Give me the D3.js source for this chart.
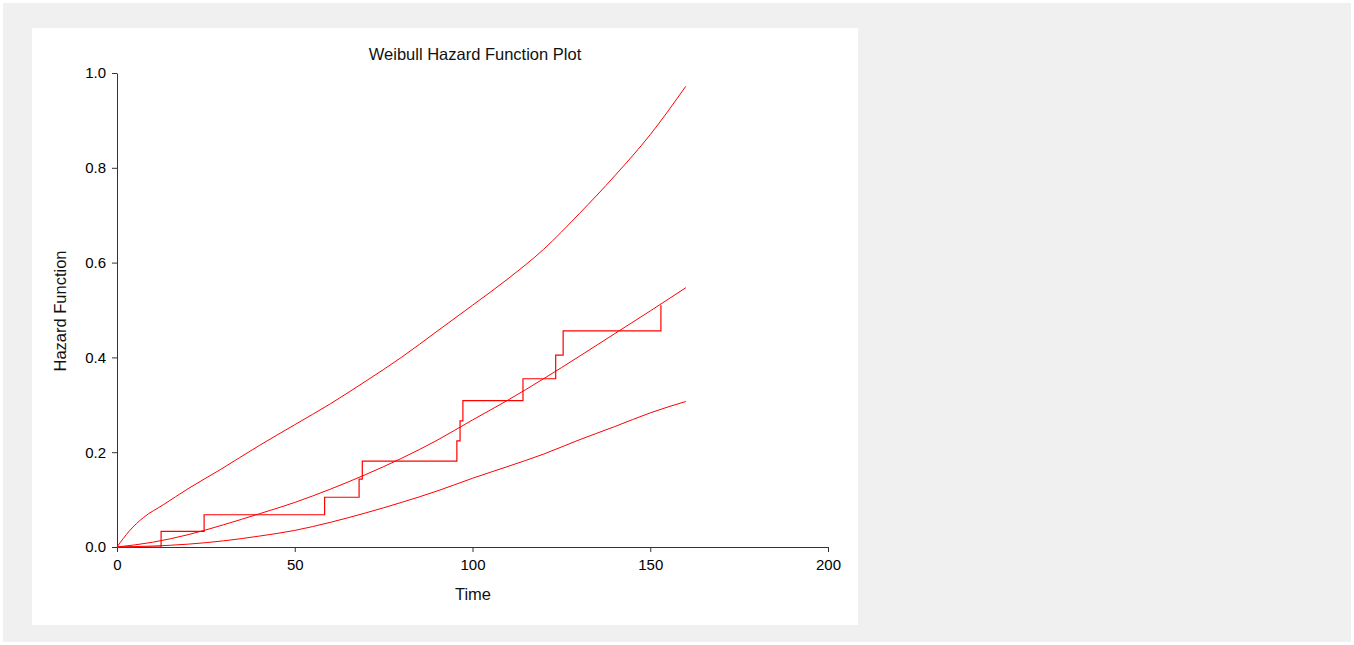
<!DOCTYPE html>
<html><head><meta charset="utf-8">
<script src="https://cdn.jsdelivr.net/npm/d3@7"></script>
<style>body{margin:0;background:#fff;}svg{display:block;font-family:"Liberation Sans",Arial,sans-serif;}</style>
</head><body>
<svg id="c" width="1354" height="645"></svg>
<script>
// Data
const upperTimes = [0, 3.5, 7.4, 13, 20, 29, 40, 50, 60, 70, 80, 90, 100, 110, 120, 130, 140, 150, 160];
const upperHazard = [0, 0.034, 0.062, 0.089, 0.123, 0.163, 0.214, 0.258, 0.302, 0.35, 0.40, 0.455, 0.51, 0.566, 0.628, 0.703, 0.783, 0.87, 0.972];
const curveTimes = [0, 10, 20, 30, 40, 50, 60, 70, 80, 90, 100, 110, 120, 130, 140, 150, 160];
const middleHazard = [0, 0.01, 0.026, 0.047, 0.07, 0.094, 0.122, 0.153, 0.187, 0.225, 0.268, 0.31, 0.355, 0.402, 0.45, 0.498, 0.547];
const lowerHazard = [0, 0.002, 0.006, 0.013, 0.023, 0.035, 0.052, 0.072, 0.094, 0.118, 0.145, 0.17, 0.196, 0.226, 0.254, 0.283, 0.307];
const stepTimes = [0, 12.4, 24.5, 58.4, 68.1, 69.0, 95.6, 96.5, 97.3, 114.2, 123.4, 125.5, 153.0];
const stepHazard = [0, 0.033, 0.068, 0.105, 0.143, 0.181, 0.224, 0.266, 0.309, 0.355, 0.405, 0.456, 0.510];
const xTicks = [0, 50, 100, 150, 200];
const yTicks = [0.0, 0.2, 0.4, 0.6, 0.8, 1.0];

const svg = d3.select("#c");
svg.append("rect").attr("x",3).attr("y",3).attr("width",1348).attr("height",639).attr("fill","#f0f0f0");
svg.append("rect").attr("x",32).attr("y",28).attr("width",826).attr("height",597).attr("fill","#fff");

const x = d3.scaleLinear().domain([0,200]).range([117,828]);
const y = d3.scaleLinear().domain([0,1]).range([547,73]);

const xAxis = svg.append("g").attr("transform","translate(0,547)")
  .call(d3.axisBottom(x).tickValues(xTicks).tickFormat(d3.format("d")).tickSize(5).tickSizeOuter(0));
const yAxis = svg.append("g").attr("transform","translate(117,0)")
  .call(d3.axisLeft(y).tickValues(yTicks).tickFormat(d3.format(".1f")).tickSize(5).tickSizeOuter(0));
[xAxis,yAxis].forEach(g=>{
  g.selectAll("path,line").attr("stroke","#333").attr("stroke-width",1);
  g.selectAll("text").attr("font-size","15px").attr("fill","#000").attr("font-family","Liberation Sans, Arial, sans-serif");
});
xAxis.selectAll("text").attr("dy","0.98em");
yAxis.selectAll("text").attr("x",-11);

const line = d3.line().x(d=>x(d[0])).y(d=>y(d[1])).curve(d3.curveMonotoneX);
svg.append("path").datum(upperTimes.map((t,i)=>[t,upperHazard[i]]))
  .attr("d", line).attr("fill","none").attr("stroke","#ff0000").attr("stroke-width",1);
[middleHazard, lowerHazard].forEach(arr=>{
  svg.append("path").datum(curveTimes.map((t,i)=>[t,arr[i]]))
    .attr("d", line).attr("fill","none").attr("stroke","#ff0000").attr("stroke-width",1);
});
const stepLine = d3.line().x(d=>x(d[0])).y(d=>y(d[1])).curve(d3.curveStepAfter);
svg.append("path").datum(stepTimes.map((t,i)=>[t,stepHazard[i]]))
  .attr("d", stepLine).attr("fill","none").attr("stroke","#ff0000").attr("stroke-width",1.2);

svg.append("text").attr("x",475).attr("y",60).attr("text-anchor","middle").attr("font-size","16.5px").attr("fill","#111").text("Weibull Hazard Function Plot");
svg.append("text").attr("x",473).attr("y",600).attr("text-anchor","middle").attr("font-size","16.5px").attr("fill","#111").text("Time");
svg.append("text").attr("transform","translate(66,311) rotate(-90)").attr("text-anchor","middle").attr("font-size","16.5px").attr("fill","#111").text("Hazard Function");
</script>
</body></html>
